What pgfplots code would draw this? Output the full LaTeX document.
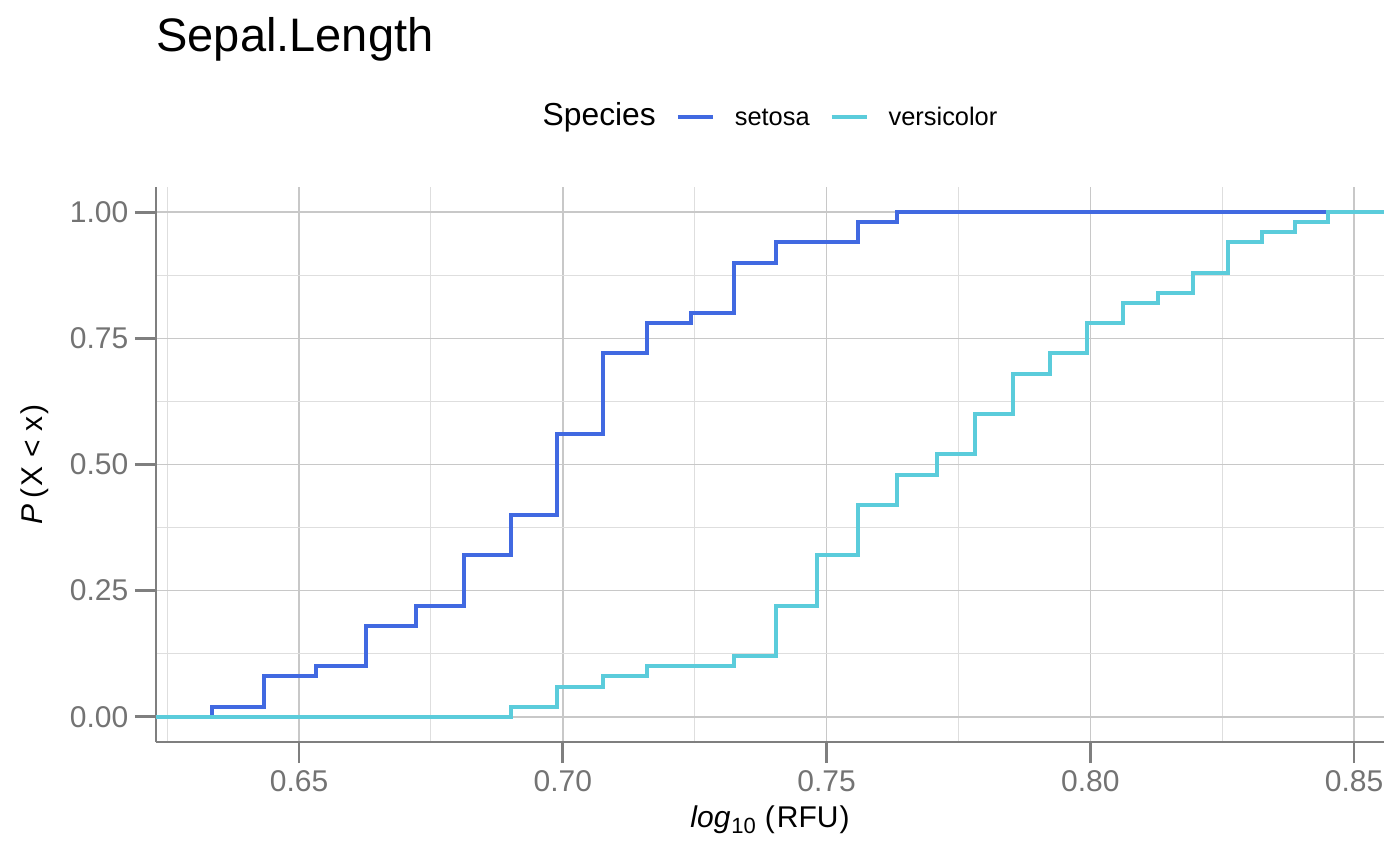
\documentclass[border=0pt]{standalone}
\usepackage{pgfplots}
\usepackage{pgfplotstable}
\pgfplotsset{compat=1.18}
\usepackage{fontspec}
\setmainfont{Liberation Sans}
\definecolor{setosa}{HTML}{4169E1}
\definecolor{versi}{HTML}{5BCCDB}
\definecolor{tickgray}{HTML}{737373}
\definecolor{axgray}{HTML}{7F7F7F}
\definecolor{majgrid}{HTML}{C8C8C8}
\definecolor{mingrid}{HTML}{DEDEDE}

\pgfplotstableread{
x y
0.622887 0.00
0.633468 0.02
0.643453 0.08
0.653213 0.10
0.662758 0.18
0.672098 0.22
0.681241 0.32
0.690196 0.40
0.698970 0.56
0.707570 0.72
0.716003 0.78
0.724276 0.80
0.732394 0.90
0.740363 0.94
0.755875 0.98
0.763428 1.00
0.855680 1.00
}\setosatab

\pgfplotstableread{
x y
0.622887 0.00
0.690196 0.02
0.698970 0.06
0.707570 0.08
0.716003 0.10
0.732394 0.12
0.740363 0.22
0.748188 0.32
0.755875 0.42
0.763428 0.48
0.770852 0.52
0.778151 0.60
0.785330 0.68
0.792392 0.72
0.799341 0.78
0.806180 0.82
0.812913 0.84
0.819544 0.88
0.826075 0.94
0.832509 0.96
0.838849 0.98
0.845098 1.00
0.855680 1.00
}\versitab

\begin{document}
\begin{tikzpicture}
\path[use as bounding box] (-78pt,-62pt) rectangle (622pt,371pt);
\begin{axis}[
  width=614pt, height=277.5pt, scale only axis,
  xmin=0.622887, xmax=0.855680, ymin=-0.05, ymax=1.05,
  axis x line*=bottom, axis y line*=left,
  axis line style={axgray, line width=0.7pt, -},
  xtick={0.65,0.7,0.75,0.8,0.85},
  minor xtick={0.625,0.675,0.725,0.775,0.825},
  ytick={0,0.25,0.5,0.75,1},
  minor ytick={0.125,0.375,0.625,0.875},
  grid=both,
  major grid style={majgrid, line width=0.75pt},
  minor grid style={mingrid, line width=0.5pt},
  tick align=outside, major tick length=10.5pt, minor tick length=0pt,
  major tick style={axgray, line width=1.3pt},
  tick label style={font=\fontsize{15}{18}\selectfont, color=tickgray},
  /pgf/number format/.cd, fixed, fixed zerofill, precision=2, assume math mode=true,
  /pgfplots/.cd,
  xticklabel style={anchor=base, inner sep=0pt, yshift=-14.15pt},
  yticklabel style={anchor=east, inner sep=0pt, xshift=-3.15pt},
  title={Sepal.Length},
  every axis title/.style={font=\fontsize{23.5}{28}\selectfont, at={(axis description cs:0,1.2438)}, anchor=base west, inner sep=0pt},
  xlabel={\textit{log}\hspace{0.5pt}{\fontsize{11}{13}\selectfont\raisebox{-3pt}{10}}\hspace{4.5pt}(\hspace{1pt}RFU\hspace{0.5pt})},
  ylabel={\textit{P}\hspace{3pt}(\hspace{1pt}X < x\hspace{1pt})},
  label style={font=\fontsize{15}{18}\selectfont},
  xlabel style={at={(axis description cs:0.5,-0.1544)}, anchor=base, inner sep=0pt},
  ylabel style={at={(axis description cs:-0.0925,0.5)}, anchor=base, rotate=0, inner sep=0pt},
  legend columns=-1,
  legend style={at={(axis description cs:0.5,1.128)}, anchor=center, draw=none, fill=none, inner sep=0pt, column sep=0pt, nodes={inner sep=0pt, anchor=base west}},
  legend image code/.code={\draw[#1, line width=2pt] (11pt,4.5pt) -- (28.5pt,4.5pt); \path[draw=none, fill=none] (0pt,0pt) -- (39.5pt,0pt);},
]
\addlegendimage{empty legend}
\addlegendentry{\fontsize{15.9}{19}\selectfont Species}
\addplot[const plot, setosa, line width=2pt] table[x=x,y=y] {\setosatab};
\addlegendentry{\fontsize{12.7}{15}\selectfont setosa}
\addplot[const plot, versi, line width=2pt] table[x=x,y=y] {\versitab};
\addlegendentry{\fontsize{12.7}{15}\selectfont versicolor}
\end{axis}
\end{tikzpicture}
\end{document}
